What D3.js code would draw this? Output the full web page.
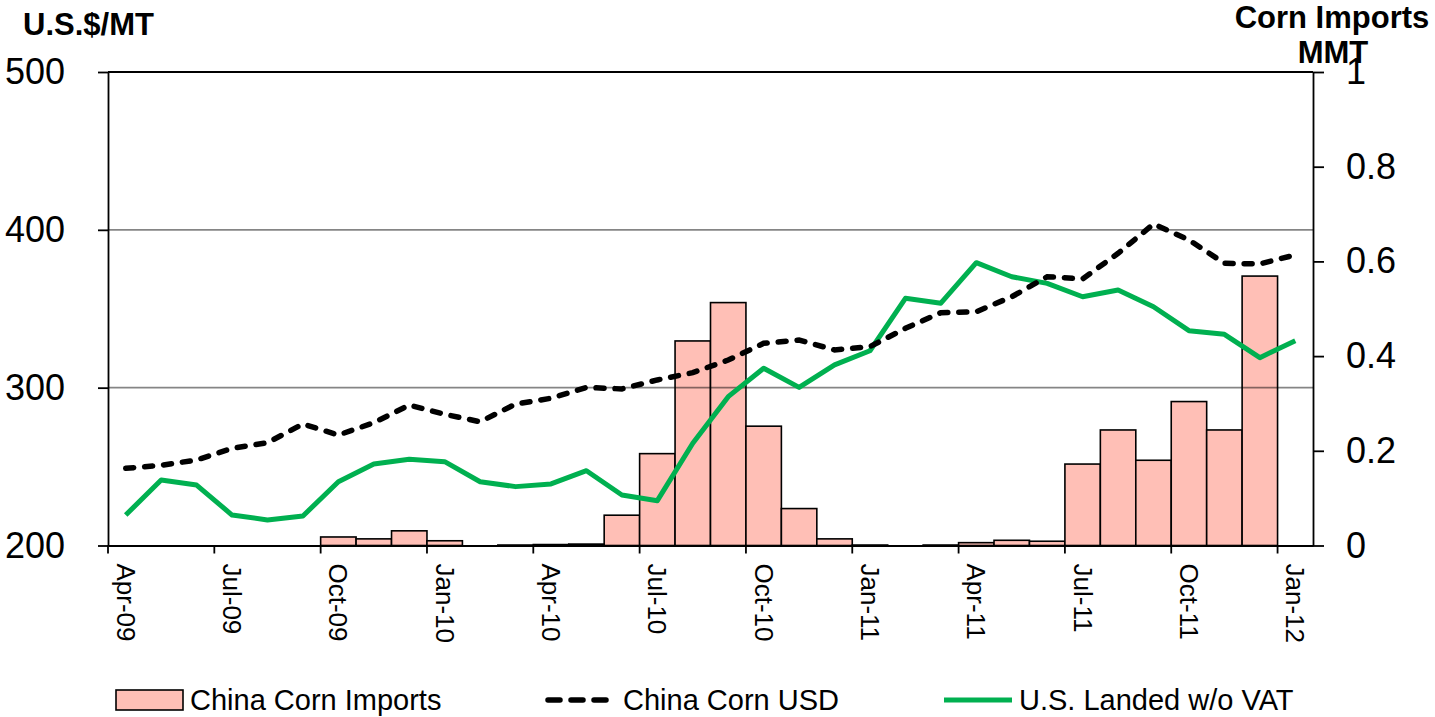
<!DOCTYPE html>
<html>
<head>
<meta charset="utf-8">
<script src="https://cdn.jsdelivr.net/npm/d3@7"></script>
<style>
  body { margin: 0; background: #fff; }
  svg text { font-family: Arial, "Liberation Sans", sans-serif; fill: #000; }
</style>
</head>
<body>
<div id="container"></div>
<script>
"use strict";

const width = 1435;
const height = 717;

// months on the x axis
const months = [
  "Apr-09","May-09","Jun-09","Jul-09","Aug-09","Sep-09","Oct-09","Nov-09","Dec-09","Jan-10","Feb-10","Mar-10",
  "Apr-10","May-10","Jun-10","Jul-10","Aug-10","Sep-10","Oct-10","Nov-10","Dec-10","Jan-11",
  "Feb-11","Mar-11","Apr-11","May-11","Jun-11","Jul-11","Aug-11","Sep-11","Oct-11","Nov-11","Dec-11","Jan-12"
];

// China corn imports, MMT (right axis)
const cornImports = [
  0, 0, 0, 0, 0, 0, 0.018, 0.014, 0.031, 0.010, 0, 0.001,
  0.002, 0.003, 0.064, 0.194, 0.432, 0.513, 0.252, 0.078, 0.014, 0.001,
  0, 0.001, 0.006, 0.011, 0.009, 0.172, 0.244, 0.180, 0.304, 0.244, 0.569, 0
];

// China corn price, US$/MT (left axis)
const chinaCornUSD = [
  248.9, 250.8, 254.2, 261.6, 265.1, 277.0, 270.0, 277.8, 289.0, 283.1, 278.4, 289.6,
  293.3, 300.2, 299.2, 304.9, 309.5, 317.5, 328.1, 330.2, 323.9, 326.0,
  337.6, 347.5, 348.1, 357.6, 370.3, 368.9, 385.1, 403.7, 393.6, 378.8, 378.4, 384.1
];

// US corn landed in China without VAT, US$/MT (left axis)
const usLanded = [
  219.3, 241.5, 238.3, 219.3, 216.2, 218.7, 240.4, 251.6, 254.6, 253.1, 240.4, 237.3,
  239.0, 247.4, 232.0, 228.4, 264.8, 294.3, 312.3, 300.2, 314.4, 323.4,
  356.6, 353.5, 379.2, 370.3, 366.1, 357.6, 361.9, 351.3, 336.1, 333.8, 319.0, 329.8
];

const leftTicks = [200, 300, 400, 500];
const rightTicks = [0, 0.2, 0.4, 0.6, 0.8, 1];
const gridTicks = [300, 400];

const plot = { left: 108, right: 1313, top: 72, bottom: 545.5 };

const svg = d3.select("#container").append("svg")
  .attr("width", width)
  .attr("height", height);

const x = d3.scaleBand().domain(months).range([plot.left, plot.right]).padding(0);
const y = d3.scaleLinear().domain([200, 500]).range([plot.bottom, plot.top]);
const y2 = d3.scaleLinear().domain([0, 1]).range([plot.bottom, plot.top]);
const bw = x.bandwidth();

// bars
svg.append("g").selectAll("rect")
  .data(months.map((m, i) => ({ m, v: cornImports[i] })).filter(d => d.v > 0))
  .enter().append("rect")
  .attr("x", d => x(d.m))
  .attr("y", d => y2(d.v))
  .attr("width", bw)
  .attr("height", d => y2(0) - y2(d.v))
  .style("fill", "#ffbfb6")
  .style("stroke", "#000")
  .style("stroke-width", 1.6);

// gridlines, over the bars
svg.append("g").selectAll("line")
  .data(gridTicks)
  .enter().append("line")
  .attr("x1", plot.left).attr("x2", plot.right)
  .attr("y1", d => y(d)).attr("y2", d => y(d))
  .style("stroke", "rgba(0,0,0,0.48)")
  .style("stroke-width", 1.6);

// top frame line
svg.append("line")
  .attr("x1", plot.left).attr("x2", plot.right)
  .attr("y1", plot.top).attr("y2", plot.top)
  .style("stroke", "#000").style("stroke-width", 1.8);

// lines
const lineGen = d3.line()
  .x((d, i) => x(months[i]) + bw / 2)
  .y(d => y(d));

svg.append("path")
  .datum(usLanded)
  .attr("d", lineGen)
  .style("fill", "none")
  .style("stroke", "#00b050")
  .style("stroke-width", 5)
  .style("stroke-linejoin", "round");

svg.append("path")
  .datum(chinaCornUSD)
  .attr("d", lineGen)
  .style("fill", "none")
  .style("stroke", "#000")
  .style("stroke-width", 5.5)
  .style("stroke-dasharray", "8,11")
  .style("stroke-linecap", "round");

// left axis
const leftAxis = svg.append("g")
  .attr("transform", `translate(${plot.left},0)`)
  .call(d3.axisLeft(y).tickValues(leftTicks).tickSize(10).tickPadding(33).tickSizeOuter(0));
leftAxis.selectAll("text").style("font-size", "36px");

// right axis
const rightAxis = svg.append("g")
  .attr("transform", `translate(${plot.right},0)`)
  .call(d3.axisRight(y2).tickValues(rightTicks).tickSize(11).tickPadding(22).tickSizeOuter(0)
    .tickFormat(d => String(d)));
rightAxis.selectAll("text").style("font-size", "36px");

// bottom axis: ticks on band edges, labels at band centres
const shown = months.filter((d, i) => i % 3 === 0);
const bottomAxis = svg.append("g")
  .attr("transform", `translate(0,${plot.bottom})`)
  .call(d3.axisBottom(x).tickValues(shown).tickSize(8).tickSizeOuter(0));
bottomAxis.selectAll(".tick line").attr("x1", -bw / 2).attr("x2", -bw / 2);
bottomAxis.selectAll(".tick text")
  .attr("y", 0).attr("dy", null)
  .attr("transform", "translate(0,18) rotate(90)")
  .attr("text-anchor", "start")
  .attr("dominant-baseline", "central")
  .style("font-size", "26px");

[leftAxis, rightAxis, bottomAxis].forEach(a => {
  a.selectAll("path, line").style("stroke", "#000").style("stroke-width", 1.8);
});

// axis titles
svg.append("text").attr("x", 23).attr("y", 35)
  .style("font-size", "31px").style("font-weight", "bold")
  .text("U.S.$/MT");
svg.append("text").attr("x", 1332).attr("y", 28)
  .attr("text-anchor", "middle")
  .style("font-size", "31px").style("font-weight", "bold")
  .text("Corn Imports");
svg.append("text").attr("x", 1333).attr("y", 63)
  .attr("text-anchor", "middle")
  .style("font-size", "31px").style("font-weight", "bold")
  .text("MMT");

// legend
const legY = 700;
const legend = svg.append("g");
legend.append("rect")
  .attr("x", 116).attr("y", legY - 10).attr("width", 67).attr("height", 20)
  .style("fill", "#ffbfb6").style("stroke", "#000").style("stroke-width", 1.6);
legend.append("text").attr("x", 190).attr("y", legY).attr("dominant-baseline", "central")
  .style("font-size", "29px").text("China Corn Imports");

legend.append("line")
  .attr("x1", 548).attr("x2", 610).attr("y1", legY).attr("y2", legY)
  .style("stroke", "#000").style("stroke-width", 5.5)
  .style("stroke-dasharray", "12,11").style("stroke-linecap", "round");
legend.append("text").attr("x", 623).attr("y", legY).attr("dominant-baseline", "central")
  .style("font-size", "29px").text("China Corn USD");

legend.append("line")
  .attr("x1", 944).attr("x2", 1012).attr("y1", legY).attr("y2", legY)
  .style("stroke", "#00b050").style("stroke-width", 5);
legend.append("text").attr("x", 1019).attr("y", legY).attr("dominant-baseline", "central")
  .style("font-size", "29px").text("U.S. Landed w/o VAT");
</script>
</body>
</html>
